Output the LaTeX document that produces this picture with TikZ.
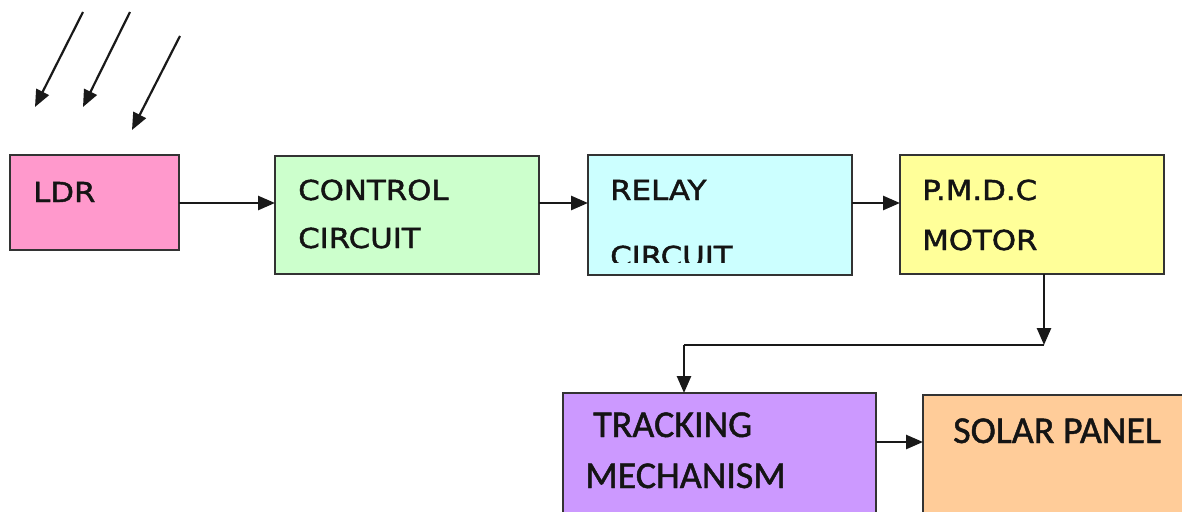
\documentclass[tikz,border=0pt]{standalone}
\usepackage{fontspec}
\usetikzlibrary{arrows.meta}
\newfontfamily\wideface[FakeStretch=1.12, FakeBold=1.6]{DejaVu Sans}
\newfontfamily\narrowface[FakeBold=1.2]{Carlito}
\definecolor{ldrpink}{HTML}{FF99CC}
\definecolor{ctrlgreen}{HTML}{CCFFCC}
\definecolor{relaycyan}{HTML}{CCFFFF}
\definecolor{motoryellow}{HTML}{FFFF99}
\definecolor{trackviolet}{HTML}{CC99FF}
\definecolor{solarpeach}{HTML}{FFCC99}
\definecolor{edge}{HTML}{333333}
\tikzset{
  block/.style={draw=edge, line width=2.6pt, inner sep=0pt, outer sep=0pt, anchor=north west},
  widetext/.style={inner sep=0pt, anchor=base west, text=black!92, font=\wideface\fontsize{27.5}{32}\selectfont},
  narrowtext/.style={inner sep=0pt, anchor=base west, text=black!92, font=\narrowface\fontsize{38}{44}\selectfont},
  flow/.style={draw=black!90, line width=2.6pt, -{Triangle[length=17pt,width=14pt]}},
  wire/.style={draw=black!90, line width=2.6pt},
}
\begin{document}
\begin{tikzpicture}[x=1pt, y=-1pt]
\useasboundingbox[fill=white] (0,0) rectangle (1182,511);

% blocks
\node[block, fill=ldrpink, minimum width=169pt, minimum height=95pt] (ldr) at (10,155) {};
\node[block, fill=ctrlgreen, minimum width=264pt, minimum height=118pt] (ctrl) at (275,156) {};
\node[block, fill=relaycyan, minimum width=264pt, minimum height=120pt] (relay) at (588,155) {};
\node[block, fill=motoryellow, minimum width=264pt, minimum height=119pt] (motor) at (900,155) {};
\node[block, fill=trackviolet, minimum width=313pt, minimum height=140pt] (trk) at (563,393) {};
\node[block, fill=solarpeach, minimum width=280pt, minimum height=140pt] (solar) at (923,395) {};

% block captions
\node[widetext] (ldr-t) at (33,202) {LDR};
\node[widetext] (ctrl-t1) at (298,200) {CONTROL};
\node[widetext] (ctrl-t2) at (298,248) {CIRCUIT};
\node[widetext] (relay-t1) at (610,200) {RELAY};
\begin{scope}
  \clip (588,155) rectangle (852,262);
  \node[widetext] (relay-t2) at (610,266) {CIRCUIT};
\end{scope}
\node[widetext] (motor-t1) at (922,200) {P.M.D.C};
\node[widetext] (motor-t2) at (922,250) {MOTOR};
\node[narrowtext] (trk-t1) at (593,437) {TRACKING};
\node[narrowtext] (trk-t2) at (585,488) {MECHANISM};
\node[narrowtext] (solar-t) at (953,443) {SOLAR PANEL};

% incoming light
\coordinate (ray1a) at (83,12);   \coordinate (ray1b) at (35,107);
\coordinate (ray2a) at (130,12);  \coordinate (ray2b) at (83,107);
\coordinate (ray3a) at (180,36);  \coordinate (ray3b) at (132,130);
\draw[flow, line width=2.2pt] (ray1a) -- (ray1b);
\draw[flow, line width=2.2pt] (ray2a) -- (ray2b);
\draw[flow, line width=2.2pt] (ray3a) -- (ray3b);

% signal chain
\draw[flow] (ldr.east |- 0,203) -- (ctrl.west |- 0,203);
\draw[flow] (ctrl.east |- 0,203) -- (relay.west |- 0,203);
\draw[flow] (relay.east |- 0,203) -- (motor.west |- 0,203);

% motor drives the tracking mechanism
\coordinate (drop) at (1044,345);
\coordinate (turn) at (684,345);
\draw[flow] (motor.south -| drop) -- (drop);
\draw[wire] (drop) -- (turn);
\draw[flow] (turn) -- (trk.north -| turn);

% tracking mechanism moves the panel
\draw[flow] (trk.east |- 0,442) -- (solar.west |- 0,442);
\end{tikzpicture}
\end{document}
